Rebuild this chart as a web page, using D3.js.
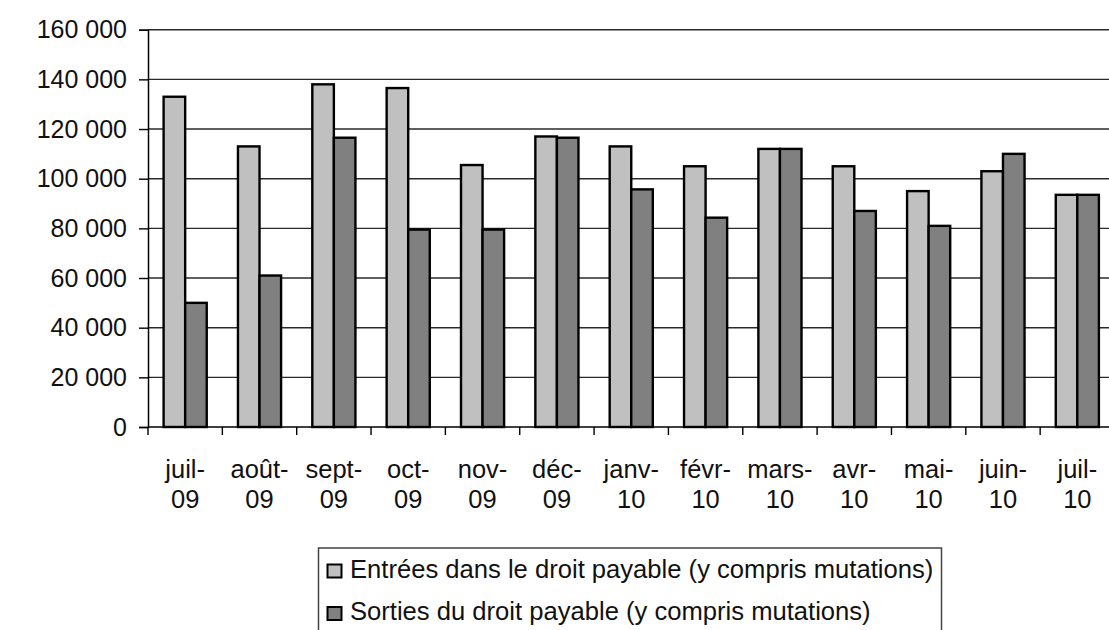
<!DOCTYPE html>
<html>
<head>
<meta charset="utf-8">
<script src="https://cdn.jsdelivr.net/npm/d3@7"></script>
<style>
    html, body { margin: 0; padding: 0; background: #fff; }
    svg { display: block; font-family: 'Liberation Sans', Arial, sans-serif; }
</style>
</head>
<body>
<svg id="chart" width="1109" height="630"></svg>
<script>
'use strict';

// month labels: part before the dash on line 1, year on line 2
let months = ['juil-09', 'août-09', 'sept-09', 'oct-09', 'nov-09', 'déc-09', 'janv-10',
    'févr-10', 'mars-10', 'avr-10', 'mai-10', 'juin-10', 'juil-10'];
let entrees = [133000, 113000, 138000, 136500, 105500, 117000, 113000,
    105000, 112000, 105000, 95000, 103000, 93500];
let sorties = [50000, 61000, 116500, 79500, 79500, 116500, 95700,
    84300, 112000, 87000, 81000, 110000, 93500];
let seriesNames = ['Entrées dans le droit payable (y compris mutations)',
    'Sorties du droit payable (y compris mutations)'];
let yTicks = [0, 20000, 40000, 60000, 80000, 100000, 120000, 140000, 160000];

let colors = ['#c0c0c0', '#808080'];
let plot = { left: 148, right: 1114.5, top: 29.7, bottom: 427 };

let svg = d3.select('#chart');

let x = d3.scaleBand()
    .domain(months)
    .range([plot.left, plot.right]);

let y = d3.scaleLinear()
    .domain([0, 160000])
    .range([plot.bottom, plot.top]);

let bw = x.bandwidth(),
    groupW = bw * 0.58;
let x1 = d3.scaleBand()
    .domain([0, 1])
    .range([(bw - groupW) / 2, (bw + groupW) / 2]);

let fmt = v => d3.format(',')(v).replace(/,/g, ' ');

// gridlines
svg.append('g')
    .selectAll('line')
    .data(yTicks.filter(d => d > 0))
  .enter().append('line')
    .attr('x1', plot.left)
    .attr('x2', plot.right)
    .attr('y1', d => y(d))
    .attr('y2', d => y(d))
    .attr('stroke', '#2a2a2a')
    .attr('stroke-width', 1.4);

// y axis
let yAxis = svg.append('g')
    .attr('transform', 'translate(' + plot.left + ',0)')
    .call(d3.axisLeft(y).tickValues(yTicks).tickFormat(fmt).tickSize(9).tickPadding(12));
yAxis.select('.domain').attr('stroke', '#000').attr('stroke-width', 1.5);
yAxis.selectAll('.tick line').attr('stroke', '#000').attr('stroke-width', 1.4);
yAxis.selectAll('text')
    .attr('fill', '#111')
    .style('font-size', '25px')
    .style('font-family', "'Liberation Sans', Arial, sans-serif");

// bars
let rows = months.map((m, i) => ({ month: m, values: [entrees[i], sorties[i]] }));
svg.append('g')
    .selectAll('g')
    .data(rows)
  .enter().append('g')
    .attr('transform', d => 'translate(' + x(d.month) + ',0)')
    .selectAll('rect')
    .data(d => d.values.map((v, k) => ({ k: k, v: v })))
  .enter().append('rect')
    .attr('x', d => x1(d.k))
    .attr('width', x1.bandwidth())
    .attr('y', d => y(d.v))
    .attr('height', d => y(0) - y(d.v))
    .attr('fill', d => colors[d.k])
    .attr('stroke', '#000')
    .attr('stroke-width', 2.4);

// x axis
let xAxis = svg.append('g')
    .attr('transform', 'translate(0,' + plot.bottom + ')');
xAxis.append('line')
    .attr('x1', plot.left)
    .attr('x2', plot.right)
    .attr('stroke', '#000')
    .attr('stroke-width', 1.5);
xAxis.selectAll('.xtick')
    .data(months.concat(['end']))
  .enter().append('line')
    .attr('class', 'xtick')
    .attr('x1', (d, i) => plot.left + i * bw)
    .attr('x2', (d, i) => plot.left + i * bw)
    .attr('y1', 0)
    .attr('y2', 8)
    .attr('stroke', '#000')
    .attr('stroke-width', 1.4);
let labels = xAxis.selectAll('.xlabel')
    .data(months)
  .enter().append('text')
    .attr('class', 'xlabel')
    .attr('text-anchor', 'middle')
    .attr('fill', '#111')
    .style('font-size', '25.5px');
labels.append('tspan')
    .attr('x', d => x(d) + bw / 2)
    .attr('y', 51)
    .text(d => d.split('-')[0] + '-');
labels.append('tspan')
    .attr('x', d => x(d) + bw / 2)
    .attr('y', 81)
    .text(d => d.split('-')[1]);

// legend
let legend = svg.append('g');
legend.append('rect')
    .attr('x', 318.5)
    .attr('y', 548)
    .attr('width', 623)
    .attr('height', 90)
    .attr('fill', '#fff')
    .attr('stroke', '#444')
    .attr('stroke-width', 1.5);
let items = legend.selectAll('.item')
    .data(seriesNames)
  .enter().append('g')
    .attr('class', 'item')
    .attr('transform', (d, i) => 'translate(0,' + (i * 42.5) + ')');
items.append('rect')
    .attr('x', 327.5)
    .attr('y', 564.5)
    .attr('width', 14)
    .attr('height', 13)
    .attr('fill', (d, i) => colors[i])
    .attr('stroke', '#000')
    .attr('stroke-width', 2);
items.append('text')
    .attr('x', 350)
    .attr('y', 577.5)
    .attr('fill', '#111')
    .style('font-size', '25.6px')
    .text(d => d);
</script>
</body>
</html>
